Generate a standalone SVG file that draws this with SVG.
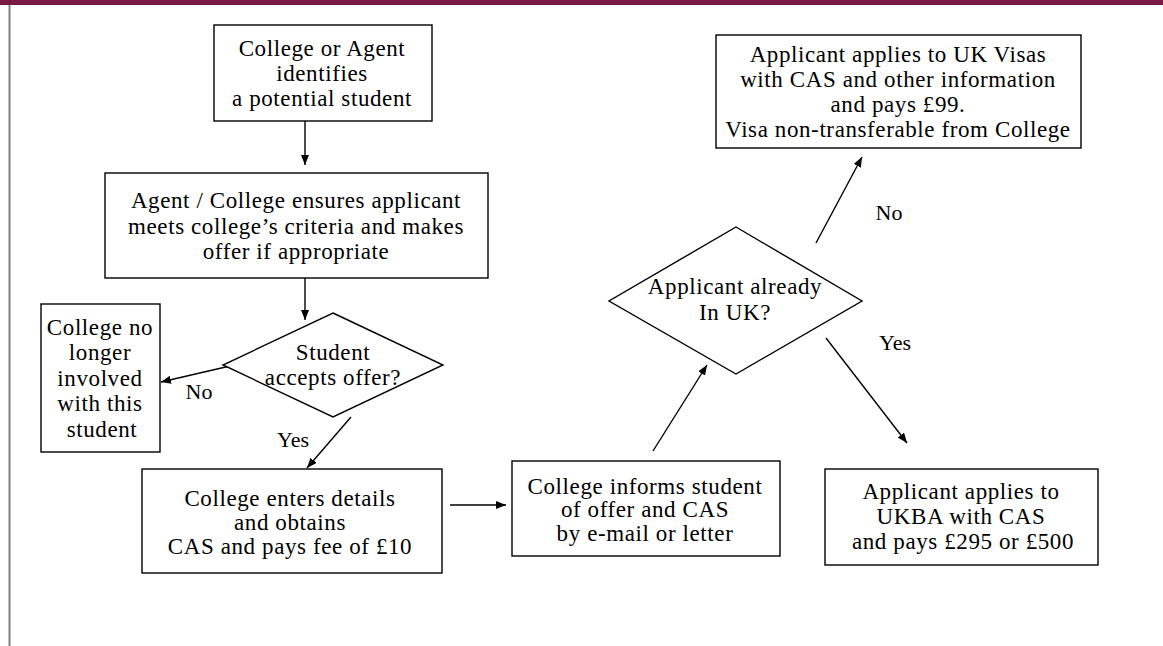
<svg xmlns="http://www.w3.org/2000/svg" width="1163" height="646" viewBox="0 0 1163 646">
<style>
.box{fill:#fff;stroke:#000;stroke-width:1.4}
.t{font-family:"Liberation Serif","Times New Roman",serif;font-size:23px;letter-spacing:0.6px;fill:#000;text-anchor:middle}
.lbl{font-family:"Liberation Serif","Times New Roman",serif;font-size:22px;fill:#000;text-anchor:middle}
.c{stroke:#000;stroke-width:1.4;fill:none;marker-end:url(#ah)}
</style>
<defs>
<marker id="ah" markerUnits="userSpaceOnUse" markerWidth="12" markerHeight="10" refX="10" refY="4" orient="auto">
<path d="M0,0 L10,4 L0,8 z" fill="#000"/>
</marker>
</defs>
<rect x="0" y="0" width="1163" height="646" fill="#fff"/>
<rect x="0" y="0" width="1163" height="5" fill="#7a1a42"/>
<rect x="8.5" y="5" width="2" height="641" fill="#808080"/>

<g id="connectors">
<line class="c" x1="305" y1="121" x2="305" y2="165"/>
<line class="c" x1="305" y1="278" x2="305" y2="320"/>
<line class="c" x1="230" y1="366" x2="161" y2="382"/>
<line class="c" x1="351" y1="417" x2="307" y2="468"/>
<line class="c" x1="450" y1="505" x2="506" y2="505"/>
<line class="c" x1="653" y1="451" x2="707" y2="365"/>
<line class="c" x1="816" y1="243" x2="862" y2="157"/>
<line class="c" x1="826" y1="338" x2="907" y2="443"/>
<text class="lbl" x="199" y="399">No</text>
<text class="lbl" x="293" y="447">Yes</text>
<text class="lbl" x="889" y="220">No</text>
<text class="lbl" x="895" y="350">Yes</text>
</g>

<g id="n1">
<rect class="box" x="214" y="25" width="218" height="96"/>
<text class="t" x="322" y="56">College or Agent</text>
<text class="t" x="322" y="81">identifies</text>
<text class="t" x="322" y="106">a potential student</text>
</g>

<g id="n2">
<rect class="box" x="105" y="173" width="383" height="105"/>
<text class="t" x="296" y="208">Agent / College ensures applicant</text>
<text class="t" x="296" y="234">meets college’s criteria and makes</text>
<text class="t" x="296" y="259">offer if appropriate</text>
</g>

<g id="d1">
<polygon class="box" points="333,313 443,365 333,417 223,365"/>
<text class="t" x="333" y="360">Student</text>
<text class="t" x="333" y="385">accepts offer?</text>
</g>

<g id="n3">
<rect class="box" x="41" y="304" width="119" height="148"/>
<text class="t" x="100" y="335">College no</text>
<text class="t" x="100" y="360">longer</text>
<text class="t" x="100" y="386">involved</text>
<text class="t" x="100" y="411">with this</text>
<text class="t" x="102" y="437">student</text>
</g>

<g id="n4">
<rect class="box" x="142" y="469" width="300" height="104"/>
<text class="t" x="290" y="506">College enters details</text>
<text class="t" x="290" y="530">and obtains</text>
<text class="t" x="290" y="554">CAS and pays fee of £10</text>
</g>

<g id="n5">
<rect class="box" x="512" y="461" width="268" height="95"/>
<text class="t" x="645" y="494">College informs student</text>
<text class="t" x="645" y="517">of offer and CAS</text>
<text class="t" x="645" y="541">by e-mail or letter</text>
</g>

<g id="d2">
<polygon class="box" points="736,227 862,301 736,374 609,301"/>
<text class="t" x="735" y="294">Applicant already</text>
<text class="t" x="735" y="320">In UK?</text>
</g>

<g id="n6">
<rect class="box" x="716" y="35" width="365" height="113"/>
<text class="t" x="898" y="62">Applicant applies to UK Visas</text>
<text class="t" x="898" y="87">with CAS and other information</text>
<text class="t" x="898" y="112">and pays £99.</text>
<text class="t" x="898" y="137">Visa non-transferable from College</text>
</g>

<g id="n7">
<rect class="box" x="825" y="469" width="273" height="96"/>
<text class="t" x="961" y="499">Applicant applies to</text>
<text class="t" x="961" y="524">UKBA with CAS</text>
<text class="t" x="963" y="549">and pays £295 or £500</text>
</g>
</svg>
